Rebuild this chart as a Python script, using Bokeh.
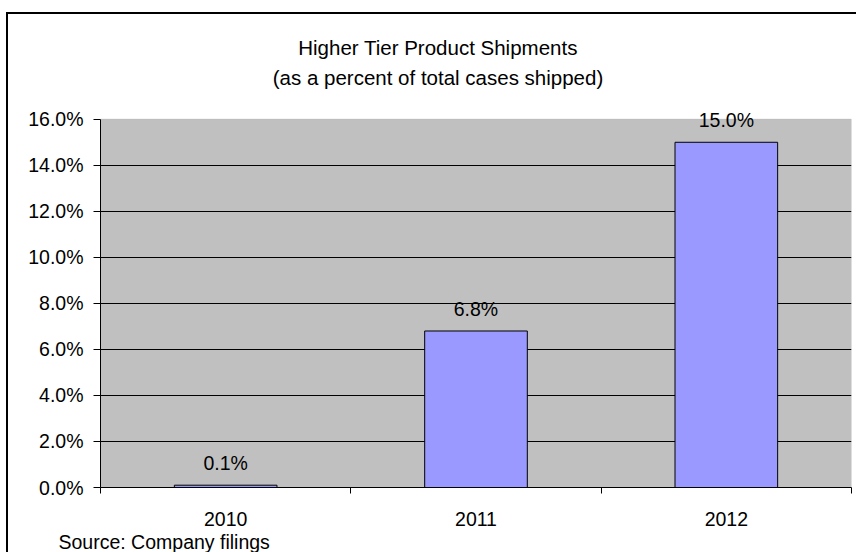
from bokeh.plotting import figure
from bokeh.models import (Range1d, FixedTicker, PrintfTickFormatter, Label, LabelSet,
                          BoxAnnotation, ColumnDataSource, Title)
from bokeh.core.properties import value
from bokeh.embed import file_html
from bokeh.resources import INLINE

years = ["2010", "2011", "2012"]
shares = [0.1, 6.8, 15.0]
y_ticks = [0, 2, 4, 6, 8, 10, 12, 14, 16]
title_lines = ["Higher Tier Product Shipments", "(as a percent of total cases shipped)"]
source_note = "Source: Company filings"

FONT = "Liberation Sans"
FS = "19.5px"

# layout in pixels
W, H = 856, 552
FRAME_L, FRAME_R, PLOT_TOP, FRAME_B = 100, 851, 119, 488

n = len(years)
centers = [i + 0.5 for i in range(n)]
bounds = list(range(n + 1))
labels = [f"{v:.1f}%" for v in shares]
src = ColumnDataSource(dict(x=centers, top=shares, label=labels))

ymax_plot = y_ticks[-1]
ymax_frame = ymax_plot * FRAME_B / (FRAME_B - PLOT_TOP)

p = figure(width=W, height=H, title=None,
           x_range=Range1d(0, n), y_range=Range1d(0, ymax_frame),
           output_backend="svg", toolbar_location=None,
           min_border_left=FRAME_L, min_border_right=W - FRAME_R,
           min_border_top=0, min_border_bottom=H - FRAME_B)

p.background_fill_color = None
p.border_fill_color = None
p.outline_line_color = None
p.styles = {"background": "linear-gradient(#000,#000) 6px 12px / 2px 3000px no-repeat, "
                          "linear-gradient(#000,#000) 6px 12px / 3000px 2px no-repeat, #ffffff"}

# plot area (gray)
p.add_layout(BoxAnnotation(left=0, right=n, bottom=0, top=ymax_plot, level="image",
                           fill_color="#C0C0C0", fill_alpha=1,
                           line_color="#808080", line_width=1))

p.vbar(x="x", top="top", width=0.41, bottom=0, source=src,
       fill_color="#9999FF", line_color="black", line_width=1)

# y axis
p.yaxis.ticker = FixedTicker(ticks=y_ticks)
p.yaxis.bounds = (y_ticks[0], y_ticks[-1])
p.yaxis.formatter = PrintfTickFormatter(format="%.1f%%")
p.yaxis.major_tick_out = 7
p.yaxis.major_tick_in = 0
p.yaxis.minor_tick_line_color = None
p.yaxis.axis_line_color = "black"
p.yaxis.major_tick_line_color = "black"
p.yaxis.major_label_standoff = 10
p.yaxis.major_label_text_font = FONT
p.yaxis.major_label_text_font_size = FS
p.yaxis.major_label_text_color = "black"

# x axis
p.xaxis.ticker = FixedTicker(ticks=centers, minor_ticks=bounds)
p.xaxis.major_label_overrides = {c: y for c, y in zip(centers, years)}
p.xaxis.major_tick_line_color = None
p.xaxis.major_tick_out = 0
p.xaxis.major_tick_in = 0
p.xaxis.minor_tick_out = 6
p.xaxis.minor_tick_in = 0
p.xaxis.minor_tick_line_color = "black"
p.xaxis.axis_line_color = "black"
p.xaxis.major_label_standoff = 18
p.xaxis.major_label_text_font = FONT
p.xaxis.major_label_text_font_size = FS
p.xaxis.major_label_text_color = "black"

p.xgrid.grid_line_color = None
p.ygrid.ticker = FixedTicker(ticks=y_ticks[1:-1])
p.ygrid.grid_line_color = "black"
p.ygrid.grid_line_width = 1

p.add_layout(LabelSet(x="x", y="top", text="label", source=src, y_offset=15,
                      text_align="center", text_baseline="alphabetic",
                      text_font=value(FONT), text_font_size=FS, text_color="black"))

for txt, base in zip(title_lines, [48.0, 77.5]):
    p.add_layout(Label(x=437.5 - FRAME_L, y=FRAME_B - base, x_units="screen", y_units="screen",
                       text=txt, text_align="center", text_baseline="alphabetic",
                       text_font=FONT, text_font_size="20.5px", text_color="black"))

p.add_layout(Title(text=source_note, align="left", offset=58 - FRAME_L, standoff=0,
                   text_font=FONT, text_font_size=FS, text_font_style="normal",
                   text_color="black"), "below")

open("out.html", "w").write(file_html(p, INLINE))
